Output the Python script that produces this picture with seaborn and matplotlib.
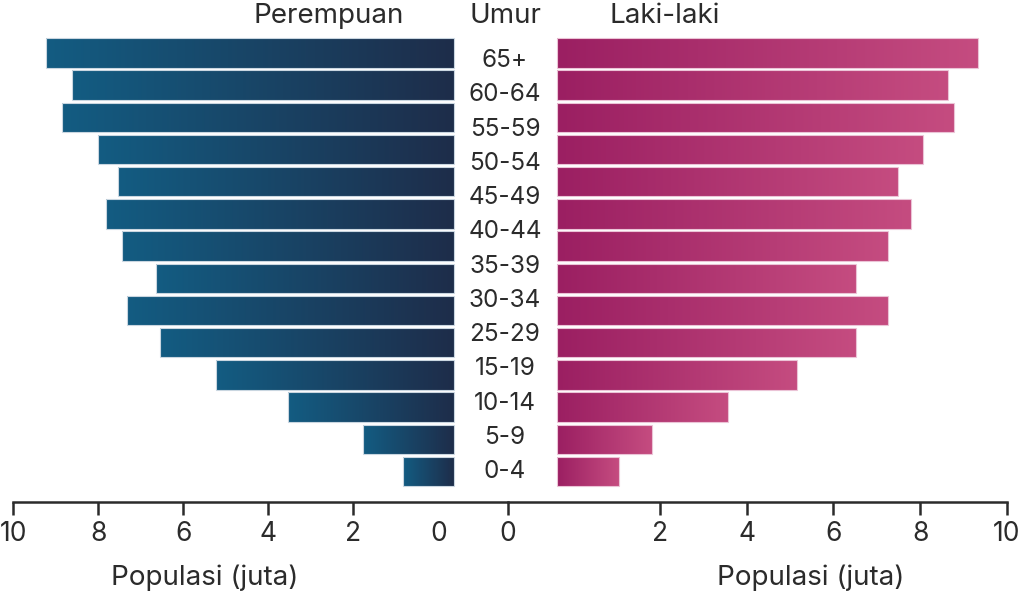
import numpy as np
import pandas as pd
import matplotlib
matplotlib.use("Agg")
import matplotlib.pyplot as plt
from matplotlib.colors import LinearSegmentedColormap
import seaborn as sns

# ==========================================
# 数据 (百万人)
# ==========================================
age_groups = ["65+", "60-64", "55-59", "50-54", "45-49", "40-44", "35-39",
              "30-34", "25-29", "20-24", "15-19", "10-14", "5-9", "0-4"]
perempuan = [9.23, 8.62, 8.85, 8.01, 7.54, 7.82, 7.44,
             6.65, 7.32, 6.55, 5.23, 3.54, 1.77, 0.83]
laki_laki = [9.33, 8.64, 8.78, 8.06, 7.49, 7.79, 7.26,
             6.52, 7.26, 6.52, 5.16, 3.57, 1.82, 1.06]
# labels shown in the middle column (20-24 is not printed in the original)
age_labels = ["65+", "60-64", "55-59", "50-54", "45-49", "40-44", "35-39",
              "30-34", "25-29", "15-19", "10-14", "5-9", "0-4"]
ticks_left = [10, 8, 6, 4, 2, 0]
ticks_right = [2, 4, 6, 8, 10]

df = pd.DataFrame({"umur": age_groups, "perempuan": perempuan, "laki": laki_laki})

# ==========================================
# 样式
# ==========================================
sns.set_theme(style="white")
plt.rcParams['font.family'] = ['Inter', 'DejaVu Sans']
TXT = "#2b2b2b"
BASE = -0.36          # bars start slightly inside the axis zero
cmap_f = LinearSegmentedColormap.from_list("f", ["#1e2d4a", "#135c82"])
cmap_m = LinearSegmentedColormap.from_list("m", ["#9b1f62", "#c54c80"])

W, H = 1024, 596
fig = plt.figure(figsize=(W / 100, H / 100), dpi=100)


def px_box(x0, x1, y_top, y_bot):
    return [x0 / W, 1 - y_bot / H, (x1 - x0) / W, (y_bot - y_top) / H]


ax_l = fig.add_axes(px_box(13.3, 508, 30, 501.7))
ax_r = fig.add_axes(px_box(508, 1007, 30, 501.7))
ax_c = fig.add_axes(px_box(455, 555, 43.5, 488.7))


def gradient_bars(ax, col, cmap, edge):
    sns.barplot(data=df, x=col, y="umur", orient="h", ax=ax, width=0.913,
                color="white", saturation=1)
    grad = np.linspace(0, 1, 256).reshape(1, -1)
    for p in list(ax.patches):
        x1 = p.get_x() + p.get_width()
        p.set_x(BASE)
        p.set_width(x1 - BASE)
        p.set_facecolor("none")
        p.set_edgecolor(edge)
        p.set_linewidth(0.8)
        y0, h = p.get_y(), p.get_height()
        im = ax.imshow(grad, cmap=cmap, aspect="auto", interpolation="bicubic",
                       extent=[BASE, x1, y0 + h, y0], zorder=1)
        im.set_clip_path(p)
        p.set_zorder(2)


gradient_bars(ax_l, "perempuan", cmap_f, "#c9d6e0")
gradient_bars(ax_r, "laki", cmap_m, "#ebc3d6")

for ax in (ax_l, ax_r):
    ax.set_ylim(13.935, -0.714)
    ax.set_ylabel("")
    ax.set_yticks([])
    for s in ("top", "left", "right"):
        ax.spines[s].set_visible(False)
    ax.spines["bottom"].set_color(TXT)
    ax.spines["bottom"].set_linewidth(1.8)
    ax.tick_params(axis="x", bottom=True, length=9, width=1.8, color=TXT,
                   labelsize=19, labelcolor=TXT, pad=5)
    ax.patch.set_alpha(0)

ax_l.set_xlim(10, -1.64)
ax_l.set_xticks(ticks_left)
ax_l.set_xticklabels([str(t) for t in ticks_left])
ax_l.xaxis.get_major_ticks()[-1].tick1line.set_visible(False)

ax_r.set_xlim(-1.5, 10)
ax_r.set_xticks([-1.5] + ticks_right)
ax_r.set_xticklabels(["0"] + [str(t) for t in ticks_right])

ax_l.set_xlabel("Populasi (juta)", fontsize=20, color=TXT)
ax_r.set_xlabel("Populasi (juta)", fontsize=20, color=TXT)
ax_l.xaxis.set_label_coords((205 - 13.3) / (508 - 13.3), -(578 - 501.7) / (501.7 - 30))
ax_r.xaxis.set_label_coords((811 - 508) / (1007 - 508), -(578 - 501.7) / (501.7 - 30))
for ax in (ax_l, ax_r):
    ax.xaxis.label.set_va("center")

# 中间年龄标签
ax_c.set_axis_off()
ax_c.set_xlim(0, 1)
ax_c.set_ylim(len(age_labels) - 0.5, -0.5)
for i, lab in enumerate(age_labels):
    ax_c.text(0.5, i, lab, ha="center", va="center", fontsize=17.5, color=TXT)

# 标题
fig.text(329 / W, 1 - 16 / H, "Perempuan", ha="center", va="center", fontsize=20, color=TXT)
fig.text(506 / W, 1 - 16 / H, "Umur", ha="center", va="center", fontsize=20, color=TXT)
fig.text(665 / W, 1 - 16 / H, "Laki-laki", ha="center", va="center", fontsize=20, color=TXT)

fig.savefig("out.png", dpi=100, facecolor="white")
